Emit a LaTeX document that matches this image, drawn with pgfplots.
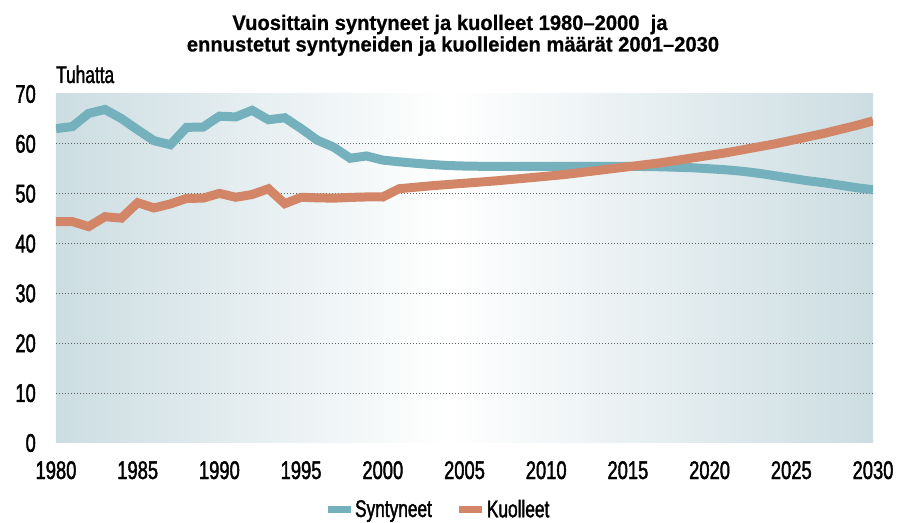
\documentclass[border=0pt]{standalone}
\usepackage{pgfplots}
\usepackage{pgfplotstable}
\pgfplotsset{compat=1.18}
\usepackage{fontspec}
\setmainfont{Liberation Sans}
\font\tickfnt="Liberation Sans:extend=0.72;embolden=1.6" at 25.5pt
\font\legfnt="Liberation Sans:extend=0.72;embolden=1.6" at 24pt
\font\titfnt="Liberation Sans/B:extend=0.96;embolden=0.6" at 21pt

\definecolor{synt}{HTML}{74B1BC}
\definecolor{kuol}{HTML}{D28567}
\definecolor{bgblue}{HTML}{CCDDE2}
\pgfdeclarehorizontalshading{bgshade}{100bp}{color(0bp)=(bgblue); color(25bp)=(bgblue); color(49bp)=(white); color(75bp)=(bgblue); color(100bp)=(bgblue)}

% tuhansia
\pgfplotstableread{
year synt kuol
1980 63.06 44.40
1981 63.47 44.40
1982 66.11 43.41
1983 66.89 45.39
1984 65.08 45.10
1985 62.80 48.20
1986 60.63 47.14
1987 59.83 47.95
1988 63.32 49.06
1989 63.35 49.11
1990 65.55 50.06
1991 65.40 49.29
1992 66.73 49.84
1993 64.83 50.99
1994 65.23 48.00
1995 63.07 49.28
1996 60.72 49.17
1997 59.33 49.11
1998 57.11 49.26
1999 57.57 49.35
2000 56.74 49.34
2001 56.40 51.00
2002 56.10 51.30
2003 55.85 51.60
2004 55.65 51.85
2005 55.55 52.10
2006 55.50 52.35
2007 55.50 52.60
2008 55.50 52.90
2009 55.50 53.20
2010 55.50 53.50
2011 55.50 53.80
2012 55.50 54.20
2013 55.50 54.60
2014 55.50 55.00
2015 55.50 55.40
2016 55.45 55.80
2017 55.40 56.20
2018 55.30 56.70
2019 55.20 57.20
2020 55.00 57.70
2021 54.80 58.20
2022 54.50 58.80
2023 54.10 59.40
2024 53.60 60.00
2025 53.10 60.70
2026 52.60 61.40
2027 52.20 62.10
2028 51.70 62.90
2029 51.20 63.70
2030 50.80 64.60
}\data

\begin{document}
\begin{tikzpicture}
\begin{axis}[
    name=ax,
    scale only axis,
    width=817pt, height=349pt,
    xmin=1980, xmax=2030, ymin=0, ymax=70,
    axis background/.style={shading=bgshade},
    axis line style={draw=none},
    tick style={draw=none},
    xtick={1980,1985,...,2030},
    ytick={10,20,...,60},
    extra y ticks={0,70},
    extra y tick style={grid=none},
    ymajorgrids,
    major grid style={gray!75!black, line width=0.9pt, dash pattern=on 0.9pt off 2.1pt},
    /pgf/number format/assume math mode=true,
    /pgf/number format/1000 sep={},
    ticklabel style={font=\tickfnt},
    yticklabel style={anchor=east, inner sep=0pt, xshift=-20pt},
    xticklabel style={anchor=north, inner sep=0pt, yshift=-18pt},
    legend style={at={(0.466,-0.19)}, anchor=center, draw=none, fill=none,
        legend columns=2, font=\legfnt,
        nodes={inner sep=0pt},
        /tikz/every odd column/.append style={column sep=1pt},
        /tikz/every even column/.append style={column sep=24pt}},
    legend cell align=left,
    legend image code/.code={\draw[#1, line width=7pt] (0pt,0pt) -- (23pt,0pt);},
]
\addplot[synt, line width=9pt] table[x=year, y=synt] {\data};
\addlegendentry{Syntyneet}
\addplot[kuol, line width=9pt] table[x=year, y=kuol] {\data};
\addlegendentry{Kuolleet}
\end{axis}
\node[anchor=base west, inner sep=0pt, font=\legfnt]
    at ([yshift=11pt]ax.north west) {Tuhatta};
\node[anchor=base, inner sep=0pt, font=\titfnt]
    at ([xshift=394pt, yshift=64pt]ax.north west) {Vuosittain syntyneet ja kuolleet 1980–2000\ \ ja};
\node[anchor=base, inner sep=0pt, font=\titfnt]
    at ([xshift=397pt, yshift=42.5pt]ax.north west) {ennustetut syntyneiden ja kuolleiden määrät 2001–2030};
\pgfresetboundingbox
\path ([xshift=-56pt, yshift=-80pt]ax.south west) rectangle ([xshift=34pt, yshift=94pt]ax.north east);
\end{tikzpicture}
\end{document}
